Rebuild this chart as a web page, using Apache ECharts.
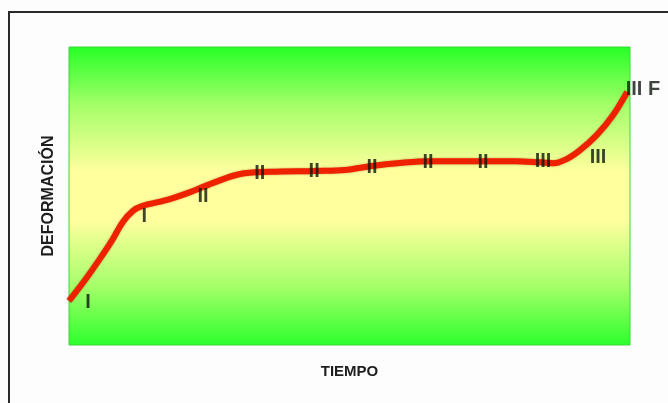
<!DOCTYPE html>
<html>
<head>
<meta charset="utf-8">
<script src="https://cdn.jsdelivr.net/npm/echarts@6/dist/echarts.min.js"></script>
<style>
html,body{margin:0;padding:0;background:#fdfdfd;}
#chart{width:668px;height:403px;}
</style>
</head>
<body>
<div id="chart"></div>
<script>
// Curve (time vs. deformation, arbitrary units 0-100)
var timeValues = [0, 2.85, 5.5, 7.7, 9.6, 11.4, 13.0, 17.5, 21.6, 25.7, 30.5, 35.8, 43.9, 49.2, 54.0, 59.0, 64.3, 73.3, 79.5, 84.0, 86.3, 88.6, 91.1, 94.1, 97.0, 99.5];
var deformationValues = [14.8, 21.8, 28.9, 35.2, 41.3, 45.0, 46.6, 48.7, 51.3, 54.4, 57.4, 58.1, 58.4, 58.7, 60.1, 61.1, 61.7, 61.7, 61.7, 61.3, 61.0, 62.3, 65.4, 70.5, 77.2, 84.9];

// Stage labels along the curve
var stageLabelX = [3.4, 13.4, 23.9, 34.0, 43.7, 54.0, 64.0, 73.8, 84.5, 94.3, 102.3];
var stageLabelY = [14.1, 43.0, 49.7, 57.4, 58.1, 59.7, 61.4, 61.4, 61.7, 62.8, 85.6];
var stageLabelText = ['I', 'I', 'II', 'II', 'II', 'II', 'II', 'II', 'III', 'III', 'III F'];

var xAxisName = 'TIEMPO';
var yAxisName = 'DEFORMACIÓN';

var curveData = timeValues.map(function (t, i) { return [t, deformationValues[i]]; });
var labelData = stageLabelX.map(function (x, i) { return { value: [x, stageLabelY[i]], name: stageLabelText[i] }; });

var chart = echarts.init(document.getElementById('chart'), null, { renderer: 'canvas' });
chart.setOption({
  backgroundColor: '#fdfdfd',
  animation: false,
  grid: {
    left: 69, right: 38, top: 47, bottom: 58,
    show: true,
    borderWidth: 1,
    borderColor: '#3ad83a',
    backgroundColor: new echarts.graphic.LinearGradient(0, 0, 0, 1, [
      { offset: 0, color: '#27ff27' },
      { offset: 0.2, color: '#a6ff6a' },
      { offset: 0.42, color: '#ffff9e' },
      { offset: 0.58, color: '#ffff9e' },
      { offset: 0.8, color: '#a6ff6a' },
      { offset: 1, color: '#2cff2c' }
    ])
  },
  xAxis: {
    type: 'value', min: 0, max: 100,
    name: xAxisName, nameLocation: 'middle', nameGap: 19,
    nameTextStyle: { fontFamily: 'Liberation Sans', fontWeight: 'bold', fontSize: 15, color: '#1e1e1e' },
    axisLine: { show: false }, axisTick: { show: false }, axisLabel: { show: false }, splitLine: { show: false }
  },
  yAxis: {
    type: 'value', min: 0, max: 100,
    name: yAxisName, nameLocation: 'middle', nameGap: 12, nameRotate: 90,
    nameTextStyle: { fontFamily: 'Liberation Sans', fontWeight: 'bold', fontSize: 16, color: '#1e1e1e' },
    axisLine: { show: false }, axisTick: { show: false }, axisLabel: { show: false }, splitLine: { show: false }
  },
  graphic: [
    { type: 'line', shape: { x1: 9, y1: 12, x2: 9, y2: 403 }, style: { stroke: '#2a2a2a', lineWidth: 2 }, z: 10 },
    { type: 'line', shape: { x1: 8, y1: 12, x2: 668, y2: 12 }, style: { stroke: '#2a2a2a', lineWidth: 2 }, z: 10 }
  ],
  series: [
    {
      type: 'line',
      data: curveData,
      smooth: 0.35,
      showSymbol: false,
      symbol: 'none',
      clip: false,
      lineStyle: { color: '#ee2200', width: 6, shadowColor: 'rgba(160,20,0,0.5)', shadowBlur: 2 },
      z: 2
    },
    {
      type: 'scatter',
      data: labelData,
      symbolSize: 1,
      itemStyle: { color: 'rgba(0,0,0,0)' },
      clip: false,
      silent: true,
      z: 3,
      label: {
        show: true,
        position: 'inside',
        formatter: function (p) { return p.name; },
        fontFamily: 'Liberation Sans',
        fontWeight: 'bold',
        fontSize: 20,
        color: '#0c160c',
        align: 'center',
        verticalAlign: 'middle'
      },
      labelLayout: { hideOverlap: false }
    }
  ]
});
</script>
</body>
</html>
